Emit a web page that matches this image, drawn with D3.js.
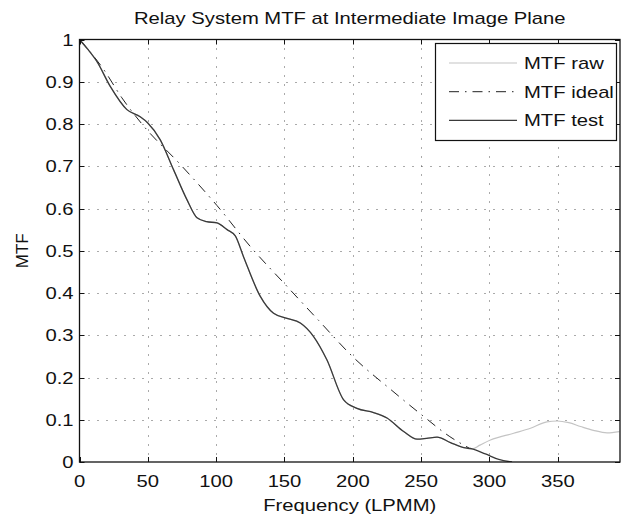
<!DOCTYPE html>
<html>
<head>
<meta charset="utf-8">
<script src="https://cdn.jsdelivr.net/npm/d3@7"></script>
<style>
  body { margin: 0; background: #fff; }
  svg { display: block; }
</style>
</head>
<body>
<div id="chart"></div>
<script>
// values
const xTicks = [0, 50, 100, 150, 200, 250, 300, 350];
const yTicks = [0, 0.1, 0.2, 0.3, 0.4, 0.5, 0.6, 0.7, 0.8, 0.9, 1];

const testFreq = [0, 6, 12.7, 22.5, 34.7, 44.4, 49.8, 59, 68.8, 78.6, 86, 93, 100.6, 108, 114, 120, 132.3, 142, 151.8, 161.6, 171.3, 181, 193.3, 203, 215.2, 225, 237.2, 247, 254, 261.6, 271.4, 281.2, 287.3, 297, 306.8, 316.5];
const testMtf  = [1, 0.977, 0.948, 0.889, 0.834, 0.817, 0.803, 0.763, 0.692, 0.621, 0.578, 0.569, 0.566, 0.55, 0.535, 0.486, 0.392, 0.352, 0.34, 0.329, 0.297, 0.242, 0.147, 0.127, 0.117, 0.104, 0.072, 0.054, 0.056, 0.059, 0.046, 0.034, 0.031, 0.019, 0.006, 0];

// raw follows test until ~287, then these points
const rawTailFreq = [293, 300.7, 317.7, 330, 342, 349.5, 358, 366.6, 376, 386, 395];
const rawTailMtf  = [0.04, 0.052, 0.068, 0.08, 0.095, 0.097, 0.093, 0.084, 0.075, 0.069, 0.072];

const idealFreq = [0, 17.7, 31, 45.7, 75, 100.6, 125, 152.3, 175, 200.3, 228.7, 250.6, 271, 285];
const idealMtf  = [1, 0.929, 0.862, 0.8, 0.7, 0.607, 0.51, 0.414, 0.335, 0.248, 0.169, 0.111, 0.06, 0.033];

const W = 622, H = 517;
const margin = {left: 79.5, right: 2, top: 39.5, bottom: 55};
// the reference text is drawn a little wide
const stretch = 1.19;

const svg = d3.select('#chart')
    .append('svg')
    .attr('width', W)
    .attr('height', H)
    .style('font-family', '"Liberation Sans", Arial, sans-serif');

let x = d3.scaleLinear()
    .domain([0, 395.5])
    .range([margin.left, W - margin.right]);
let y = d3.scaleLinear()
    .domain([0, 1])
    .range([H - margin.bottom, margin.top]);

let x0 = x.range()[0], x1 = x.range()[1];
let y0 = y.range()[0], y1 = y.range()[1];

// helper: stretched text at (tx, ty)
function label(g, tx, ty, txt, anchor, size) {
    return g.append('text')
        .attr('transform', `translate(${tx}, ${ty}) scale(${stretch}, 1)`)
        .attr('text-anchor', anchor)
        .style('font-size', size + 'px')
        .style('fill', '#111')
        .text(txt);
}

// dotted grid
let grid = svg.append('g')
    .attr('stroke', '#555')
    .attr('stroke-width', 1)
    .attr('stroke-dasharray', '1,8');
grid.selectAll('.vg')
    .data(xTicks.filter(d => d > 0))
    .enter()
    .append('line')
    .attr('x1', d => Math.round(x(d)) + 0.5)
    .attr('x2', d => Math.round(x(d)) + 0.5)
    .attr('y1', y1)
    .attr('y2', y0);
grid.selectAll('.hg')
    .data(yTicks.filter(d => d > 0 && d < 1))
    .enter()
    .append('line')
    .attr('x1', x0)
    .attr('x2', x1)
    .attr('y1', d => Math.round(y(d)) + 0.5)
    .attr('y2', d => Math.round(y(d)) + 0.5);

// lines
let line = d3.line()
    .x(d => x(d[0]))
    .y(d => y(d[1]))
    .curve(d3.curveMonotoneX);

let testPts = testFreq.map((f, i) => [f, testMtf[i]]);
let rawPts = testPts.filter(d => d[0] <= 287.3)
    .concat(rawTailFreq.map((f, i) => [f, rawTailMtf[i]]));
let idealPts = idealFreq.map((f, i) => [f, idealMtf[i]]);

svg.append('clipPath').attr('id', 'plotclip')
    .append('rect')
    .attr('x', x0).attr('y', y1)
    .attr('width', x1 - x0).attr('height', y0 - y1);

let plot = svg.append('g').attr('clip-path', 'url(#plotclip)');

plot.append('path')
    .datum(rawPts)
    .attr('d', line)
    .attr('fill', 'none')
    .attr('stroke', '#c4c4c4')
    .attr('stroke-width', 1.2);

plot.append('path')
    .datum(idealPts)
    .attr('d', line)
    .attr('fill', 'none')
    .attr('stroke', '#222')
    .attr('stroke-width', 1)
    .attr('stroke-dasharray', '10,6,1.5,6');

plot.append('path')
    .datum(testPts)
    .attr('d', line)
    .attr('fill', 'none')
    .attr('stroke', '#3a3a3a')
    .attr('stroke-width', 1.3);

// axes box with inward ticks on all four sides
let tickLen = 5;
let axes = svg.append('g').attr('stroke', '#111').attr('stroke-width', 1);
axes.append('rect')
    .attr('x', x0).attr('y', y1)
    .attr('width', x1 - x0).attr('height', y0 - y1)
    .attr('fill', 'none')
    .attr('stroke-width', 1.3);
xTicks.forEach(t => {
    let px = Math.round(x(t)) + 0.5;
    axes.append('line').attr('x1', px).attr('x2', px).attr('y1', y0).attr('y2', y0 - tickLen);
    axes.append('line').attr('x1', px).attr('x2', px).attr('y1', y1).attr('y2', y1 + tickLen);
});
yTicks.forEach(t => {
    let py = Math.round(y(t)) + 0.5;
    axes.append('line').attr('x1', x0).attr('x2', x0 + tickLen).attr('y1', py).attr('y2', py);
    axes.append('line').attr('x1', x1).attr('x2', x1 - tickLen).attr('y1', py).attr('y2', py);
});

// tick labels
let tl = svg.append('g');
xTicks.forEach(t => label(tl, x(t), y0 + 25, t, 'middle', 17));
yTicks.forEach(t => label(tl, x0 - 6, y(t) + 6, t, 'end', 17));

// titles
label(svg, (x0 + x1) / 2, 24, 'Relay System MTF at Intermediate Image Plane', 'middle', 17);
label(svg, (x0 + x1) / 2, 511, 'Frequency (LPMM)', 'middle', 17);
svg.append('text')
    .attr('transform', `translate(28, ${(y0 + y1) / 2}) rotate(-90)`)
    .attr('text-anchor', 'middle')
    .style('font-size', '17px')
    .style('fill', '#111')
    .text('MTF');

// legend
let lg = svg.append('g');
lg.append('rect')
    .attr('x', 435.5).attr('y', 43.5)
    .attr('width', 181).attr('height', 97)
    .attr('fill', '#fff')
    .attr('stroke', '#111')
    .attr('stroke-width', 1.2);
let legendItems = [
    {label: 'MTF raw', color: '#c4c4c4', dash: null, w: 1.2},
    {label: 'MTF ideal', color: '#222', dash: '10,6,1.5,6', w: 1},
    {label: 'MTF test', color: '#3a3a3a', dash: null, w: 1.3}
];
legendItems.forEach((d, i) => {
    let ly = 63 + i * 28.7;
    lg.append('line')
        .attr('x1', 449).attr('x2', 517)
        .attr('y1', ly).attr('y2', ly)
        .attr('stroke', d.color)
        .attr('stroke-width', d.w)
        .attr('stroke-dasharray', d.dash);
    label(lg, 524, ly + 6, d.label, 'start', 17);
});
</script>
</body>
</html>
